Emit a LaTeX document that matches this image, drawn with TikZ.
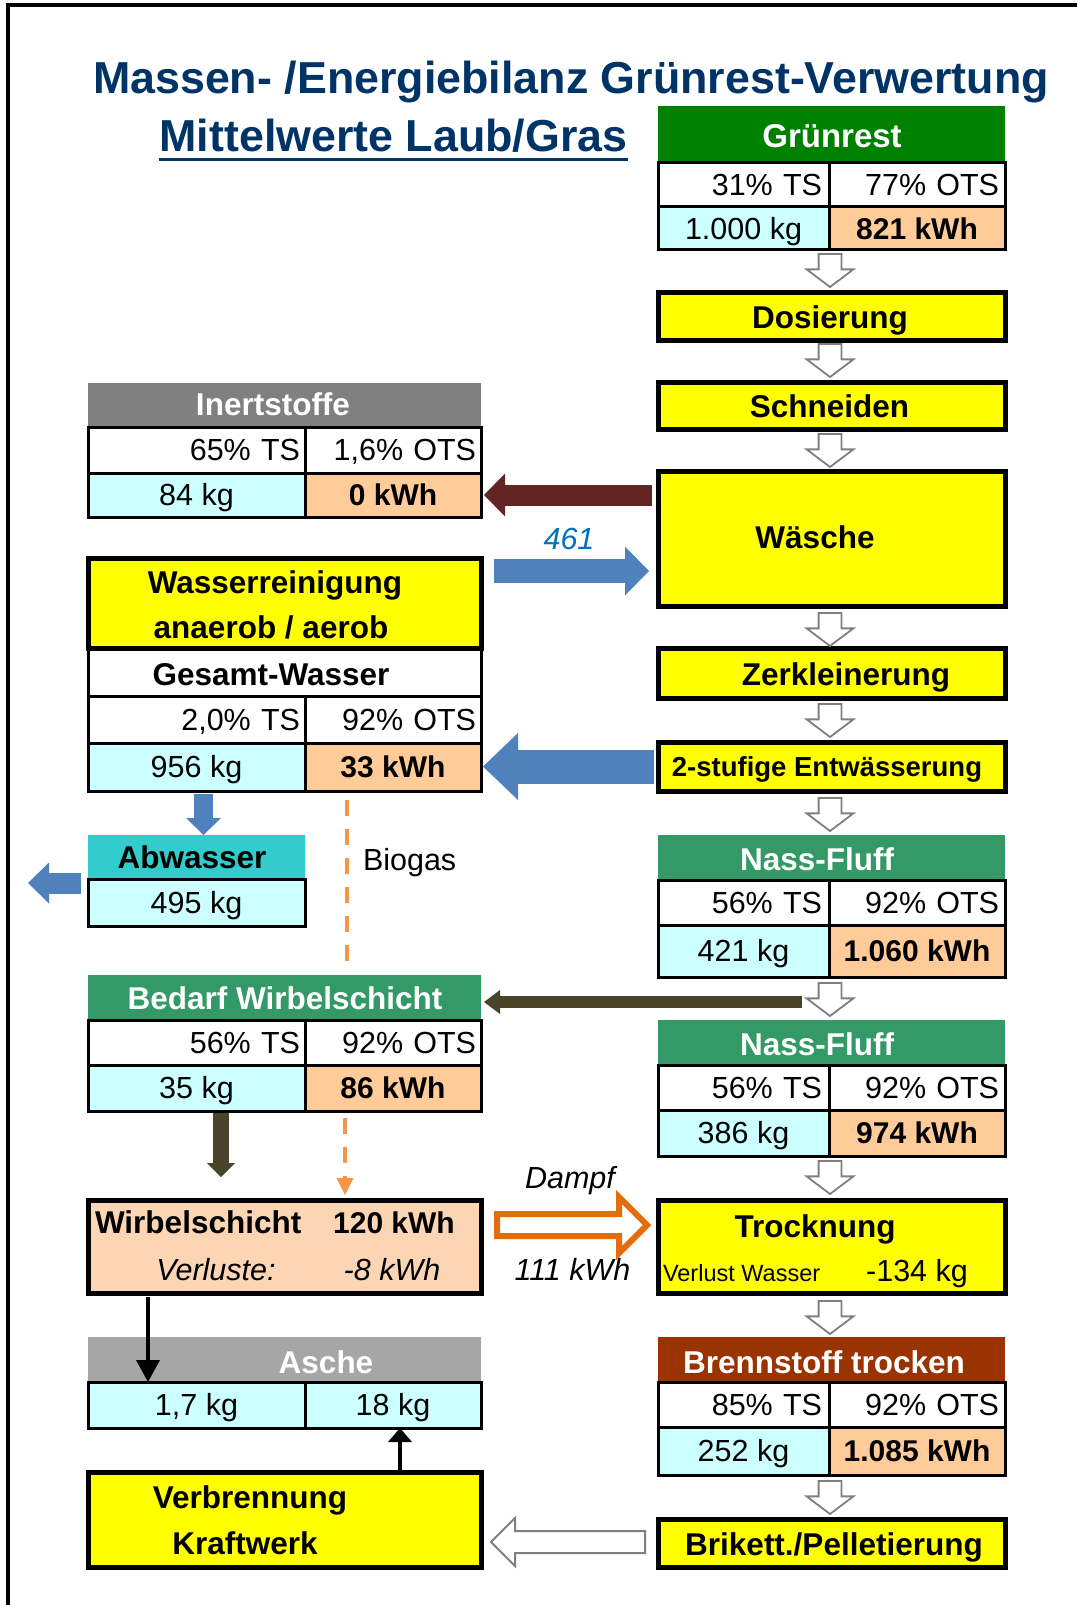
\documentclass[tikz,border=0pt]{standalone}
\usepackage{fontspec}
\setmainfont{Liberation Sans}
\usetikzlibrary{positioning, arrows.meta, shapes.arrows, calc}

\definecolor{titelblau}{HTML}{003366}
\definecolor{gruen}{HTML}{008000}
\definecolor{seegruen}{HTML}{339966}
\definecolor{hellcyan}{HTML}{CCFFFF}
\definecolor{pfirsich}{HTML}{FFCC99}
\definecolor{wirbelfill}{HTML}{FCD5B5}
\definecolor{grau1}{HTML}{808080}
\definecolor{grau2}{HTML}{A6A6A6}
\definecolor{rotbraun}{HTML}{993300}
\definecolor{tuerkis}{HTML}{33CCCC}
\definecolor{gelb}{HTML}{FFFF00}
\definecolor{blau}{HTML}{4F81BD}
\definecolor{blautext}{HTML}{0070C0}
\definecolor{dunkelrot}{HTML}{632523}
\definecolor{oliv}{HTML}{4A452A}
\definecolor{dampforange}{HTML}{E46C0A}
\definecolor{biogasorange}{HTML}{F79646}
\definecolor{pfeilgrau}{HTML}{7F7F7F}

\newcommand{\titelfont}{\fontsize{44.8}{50}\selectfont\bfseries}
\newcommand{\kopffont}{\fontsize{31.5}{36}\selectfont\bfseries}
\newcommand{\zellfont}{\fontsize{30.5}{36}\selectfont}
\newcommand{\zellfett}{\fontsize{30}{36}\selectfont\bfseries}
\newcommand{\kleinfont}{\fontsize{23.5}{28}\selectfont}

\begin{document}
\begin{tikzpicture}[x=1pt, y=-1pt,
  every node/.style={inner sep=0pt, outer sep=0pt},
  kopf/.style={anchor=north west, minimum height=45pt},
  prozess/.style={draw, line width=5pt, fill=gelb, anchor=north west,
    minimum width=347pt},
  zelle/.style={draw, line width=3pt, minimum height=45pt, font=\zellfont,
    text height=21.5pt, text depth=0pt},
  rts/.style={zelle, minimum width=171pt, text width=157pt, align=right},
  rots/.style={zelle, minimum width=176pt, text width=164pt, align=right},
  rkg/.style={zelle, fill=hellcyan, minimum width=171pt},
  kwh/.style={zelle, fill=pfirsich, minimum width=176pt, font=\zellfett},
  lts/.style={zelle, minimum width=217pt, text width=207pt, align=right},
  lots/.style={zelle, minimum width=176pt, text width=166pt, align=right},
  lkg/.style={zelle, fill=hellcyan, minimum width=217pt},
  txt/.style={anchor=base, font=\kopffont},
  weiss/.style={txt, text=white},
  pfeil/.style={single arrow, draw=pfeilgrau, fill=white, line width=1.8pt,
    inner sep=10.5pt, single arrow head extend=12pt, single arrow tip angle=106,
    minimum height=33pt, minimum width=45pt, shape border rotate=270,
    anchor=tail},
  biogas/.style={biogasorange, line width=4pt, dash pattern=on 16pt off 13pt},
]
  \useasboundingbox (0,0) rectangle (1077,1605);
  \draw[line width=4pt] (8,1605) -- (8,5) -- (1077,5);

  % Titel
  \node[anchor=base, font=\titelfont, text=titelblau] (titel) at (571,94)
    {Massen- /Energiebilanz Grünrest-Verwertung};
  \node[anchor=base, font=\titelfont, text=titelblau] (untertitel) at (393.5,152)
    {Mittelwerte Laub/Gras};
  \draw[titelblau, line width=3pt] ($(untertitel.base west)+(0,8)$)
    -- ($(untertitel.base east)+(0,8)$);

  % rechte Spalte
  \node[kopf, fill=gruen, minimum width=347pt, minimum height=57pt] (gruen) at (658,106) {};
  \node[rts, minimum height=44pt, below=0pt of gruen.south west, anchor=north west] (gruents) {31\% TS};
  \node[rots, minimum height=44pt, right=0pt of gruents] (gruenots) {77\% OTS};
  \node[rkg, minimum height=43pt, below=0pt of gruents.south west, anchor=north west] (gruenkg) {1.000 kg};
  \node[kwh, minimum height=43pt, right=0pt of gruenkg] (gruenkwh) {821 kWh};

  \node[prozess, minimum height=48pt] (dos) at (658,292) {};
  \node[prozess, minimum height=47pt] (schn) at (658,382) {};
  \node[prozess, minimum height=135pt] (waesche) at (658,471) {};
  \node[prozess, minimum height=50pt] (zerk) at (658,648) {};
  \node[prozess, minimum height=49pt] (entw) at (658,742) {};

  \node[kopf, fill=seegruen, minimum width=347pt] (nf1) at (658,835) {};
  \node[rts, below=0pt of nf1.south west, anchor=north west] (nf1ts) {56\% TS};
  \node[rots, right=0pt of nf1ts] (nf1ots) {92\% OTS};
  \node[rkg, minimum height=52pt, below=0pt of nf1ts.south west, anchor=north west] (nf1kg) {421 kg};
  \node[kwh, minimum height=52pt, right=0pt of nf1kg] (nf1kwh) {1.060 kWh};

  \node[kopf, fill=seegruen, minimum width=347pt] (nf2) at (658,1020) {};
  \node[rts, below=0pt of nf2.south west, anchor=north west] (nf2ts) {56\% TS};
  \node[rots, right=0pt of nf2ts] (nf2ots) {92\% OTS};
  \node[rkg, minimum height=46pt, below=0pt of nf2ts.south west, anchor=north west] (nf2kg) {386 kg};
  \node[kwh, minimum height=46pt, right=0pt of nf2kg] (nf2kwh) {974 kWh};

  \node[prozess, minimum height=93pt] (trock) at (658,1200) {};

  \node[kopf, fill=rotbraun, minimum width=347pt] (brenn) at (658,1337) {};
  \node[rts, below=0pt of brenn.south west, anchor=north west] (brennts) {85\% TS};
  \node[rots, right=0pt of brennts] (brennots) {92\% OTS};
  \node[rkg, minimum height=48pt, below=0pt of brennts.south west, anchor=north west] (brennkg) {252 kg};
  \node[kwh, minimum height=48pt, right=0pt of brennkg] (brennkwh) {1.085 kWh};

  \node[prozess, minimum height=48pt] (brik) at (658,1519) {};

  % linke Spalte
  \node[kopf, fill=grau1, minimum width=393pt, minimum height=44pt] (inert) at (88,383) {};
  \node[lts, minimum height=46pt, below=0pt of inert.south west, anchor=north west] (inertts) {65\% TS};
  \node[lots, minimum height=46pt, right=0pt of inertts] (inertots) {1,6\% OTS};
  \node[lkg, minimum height=44pt, below=0pt of inertts.south west, anchor=north west] (inertkg) {84 kg};
  \node[kwh, minimum height=44pt, right=0pt of inertkg] (inertkwh) {0 kWh};

  \node[prozess, minimum width=393pt, minimum height=90pt] (wasser) at (88,558) {};
  \node[zelle, minimum width=393pt, minimum height=48pt, below=0pt of wasser.south west, anchor=north west] (gesamt) {};
  \node[lts, minimum height=47pt, below=0pt of gesamt.south west, anchor=north west] (wts) {2,0\% TS};
  \node[lots, minimum height=47pt, right=0pt of wts] (wots) {92\% OTS};
  \node[lkg, minimum height=48pt, below=0pt of wts.south west, anchor=north west] (wkg) {956 kg};
  \node[kwh, minimum height=48pt, right=0pt of wkg] (wkwh) {33 kWh};

  \node[kopf, fill=tuerkis, minimum width=217pt, minimum height=44pt] (abw) at (88,835) {};
  \node[lkg, minimum height=47pt, below=0pt of abw.south west, anchor=north west] (abwkg) {495 kg};

  \node[kopf, fill=seegruen, minimum width=393pt] (bedarf) at (88,975) {};
  \node[lts, below=0pt of bedarf.south west, anchor=north west] (bedts) {56\% TS};
  \node[lots, right=0pt of bedts] (bedots) {92\% OTS};
  \node[lkg, minimum height=46pt, below=0pt of bedts.south west, anchor=north west] (bedkg) {35 kg};
  \node[kwh, minimum height=46pt, right=0pt of bedkg] (bedkwh) {86 kWh};

  \node[prozess, fill=wirbelfill, minimum width=393pt, minimum height=93pt] (wirbel) at (88,1200) {};

  \node[kopf, fill=grau2, minimum width=393pt] (asche) at (88,1337) {};
  \node[lkg, minimum height=46pt, below=0pt of asche.south west, anchor=north west] (aschekg) {1,7 kg};
  \node[zelle, fill=hellcyan, minimum width=176pt, minimum height=46pt, right=0pt of aschekg] (asche18) {18 kg};

  \node[prozess, minimum width=393pt, minimum height=95pt] (verbr) at (88,1472) {};

  % Beschriftungen
  \node[weiss, font=\fontsize{33}{36}\selectfont\bfseries] (gruentxt) at (832,148) {Grünrest};
  \node[txt] (dostxt) at (830,328) {Dosierung};
  \node[txt] (schntxt) at (829.5,417) {Schneiden};
  \node[txt] (waeschetxt) at (815,548) {Wäsche};
  \node[txt] (zerktxt) at (846,685) {Zerkleinerung};
  \node[txt, font=\fontsize{27.5}{32}\selectfont\bfseries] (entwtxt) at (827,776) {2-stufige Entwässerung};
  \node[weiss] (nf1txt) at (817,870) {Nass-Fluff};
  \node[weiss] (nf2txt) at (817,1055) {Nass-Fluff};
  \node[txt] (trocktxt) at (815,1237) {Trocknung};
  \node[anchor=base west, font=\kleinfont] (verlusttxt) at (663,1281) {Verlust Wasser};
  \node[anchor=base, font=\zellfont] (wasserminus) at (917,1281) {-134 kg};
  \node[weiss] (brenntxt) at (824,1373) {Brennstoff trocken};
  \node[txt] (briktxt) at (834,1555) {Brikett./Pelletierung};

  \node[weiss] (inerttxt) at (273,415) {Inertstoffe};
  \node[txt] (wasser1) at (275,593) {Wasserreinigung};
  \node[txt] (wasser2) at (271,638) {anaerob / aerob};
  \node[txt] (gesamttxt) at (271,685) {Gesamt-Wasser};
  \node[txt] (abwtxt) at (192,868) {Abwasser};
  \node[anchor=base west, font=\zellfont] (biogastxt) at (363,870) {Biogas};
  \node[weiss] (bedtxt) at (285,1009) {Bedarf Wirbelschicht};
  \node[anchor=base west, font=\kopffont] (wirbeltxt) at (95,1233) {Wirbelschicht};
  \node[txt, font=\zellfett] (wirbelkwh) at (394,1233) {120 kWh};
  \node[anchor=base, font=\zellfont\itshape] (verlustetxt) at (216,1280) {Verluste:};
  \node[anchor=base, font=\zellfont\itshape] (verlustekwh) at (392,1280) {-8 kWh};
  \node[weiss] (aschetxt) at (326,1373) {Asche};
  \node[txt] (verbr1) at (250,1508) {Verbrennung};
  \node[txt] (verbr2) at (245,1554) {Kraftwerk};

  \node[anchor=base, font=\zellfont\itshape, text=blautext] (menge461) at (569,549) {461};
  \node[anchor=base, font=\zellfont\itshape] (dampftxt) at (570,1188) {Dampf};
  \node[anchor=base, font=\zellfont\itshape] (dampfkwh) at (572.5,1280) {111 kWh};

  % Pfeile rechte Spalte
  \node[pfeil] (p1) at (830,254) {};
  \node[pfeil] (p2) at (830,344) {};
  \node[pfeil] (p3) at (830,434) {};
  \node[pfeil] (p4) at (830,613) {};
  \node[pfeil] (p5) at (830,704) {};
  \node[pfeil] (p6) at (830,798) {};
  \node[pfeil] (p7) at (830,983) {};
  \node[pfeil] (p8) at (830,1161) {};
  \node[pfeil] (p9) at (830,1301) {};
  \node[pfeil] (p10) at (830,1481) {};

  % Stoffstroeme
  \draw[dunkelrot, line width=21pt, -{Triangle[length=21pt, width=43pt, line width=0pt]},
    shorten <=6pt, shorten >=3pt] (waesche.west |- inertkwh.east) -- (inertkwh.east);

  \coordinate (zulauf) at ([yshift=-13pt]wasser.north east);
  \draw[blau, line width=24pt, -{Triangle[length=24pt, width=49pt, line width=0pt]},
    shorten <=13pt, shorten >=9pt] (zulauf) -- (zulauf -| waesche.west);

  \draw[blau, line width=34pt, -{Triangle[length=35pt, width=67pt, line width=0pt]},
    shorten <=4pt, shorten >=2pt] (entw.west) -- (entw.west -| wkwh.east);

  \coordinate (abwin) at ([xshift=7pt]wkg.south);
  \draw[blau, line width=19pt, -{Triangle[length=17pt, width=35pt, line width=0pt]},
    shorten <=3pt] (abwin) -- (abwin |- abw.north);

  \coordinate (abwaus) at (28,883);
  \draw[blau, line width=21pt, -{Triangle[length=21pt, width=41pt, line width=0pt]},
    shorten <=7pt] (abwaus -| abwkg.west) -- (abwaus);

  \coordinate (bedarfab) at (802,1002);
  \draw[oliv, line width=12pt, -{Triangle[length=16pt, width=24pt, line width=0pt]},
    shorten >=3pt] (bedarfab) -- (bedarfab -| bedarf.east);

  \coordinate (olivab) at ([xshift=24.5pt]bedkg.south);
  \draw[oliv, line width=16pt, -{Triangle[length=14pt, width=28pt, line width=0pt]},
    shorten <=2pt, shorten >=23pt] (olivab) -- (olivab |- wirbel.north);

  \coordinate (ascheab) at ([xshift=60pt]wirbel.south west);
  \draw[line width=4.5pt, -{Triangle[length=22pt, width=24pt, line width=0pt]},
    shorten <=4pt] (ascheab) -- (ascheab |- aschekg.north);

  \coordinate (ascheauf) at ([xshift=-81pt]verbr.north east);
  \draw[line width=4.5pt, -{Triangle[length=14pt, width=24pt, line width=0pt]}]
    (ascheauf) -- (ascheauf |- asche18.south);

  \coordinate (bio1) at ($(wkwh.south west)+(42,9)$);
  \draw[biogas, shorten >=10pt] (bio1) -- (bio1 |- bedarf.north);
  \coordinate (bio2) at ($(bedkwh.south west)+(40,7)$);
  \draw[biogas, -{Triangle[length=17pt, width=17pt, line width=0pt]}, shorten >=5pt]
    (bio2) -- (bio2 |- wirbel.north);

  \node[single arrow, draw=dampforange, fill=white, line width=6pt, inner sep=8pt,
    single arrow head extend=17pt, single arrow tip angle=90,
    minimum height=150pt, minimum width=50pt, anchor=tail] (dampfpfeil) at (497,1225) {};
  \node[pfeil, line width=2pt, inner sep=10pt, single arrow head extend=13pt,
    single arrow tip angle=90, minimum height=154pt, minimum width=46pt,
    shape border rotate=180] (brikpfeil) at (645,1542) {};
\end{tikzpicture}
\end{document}
